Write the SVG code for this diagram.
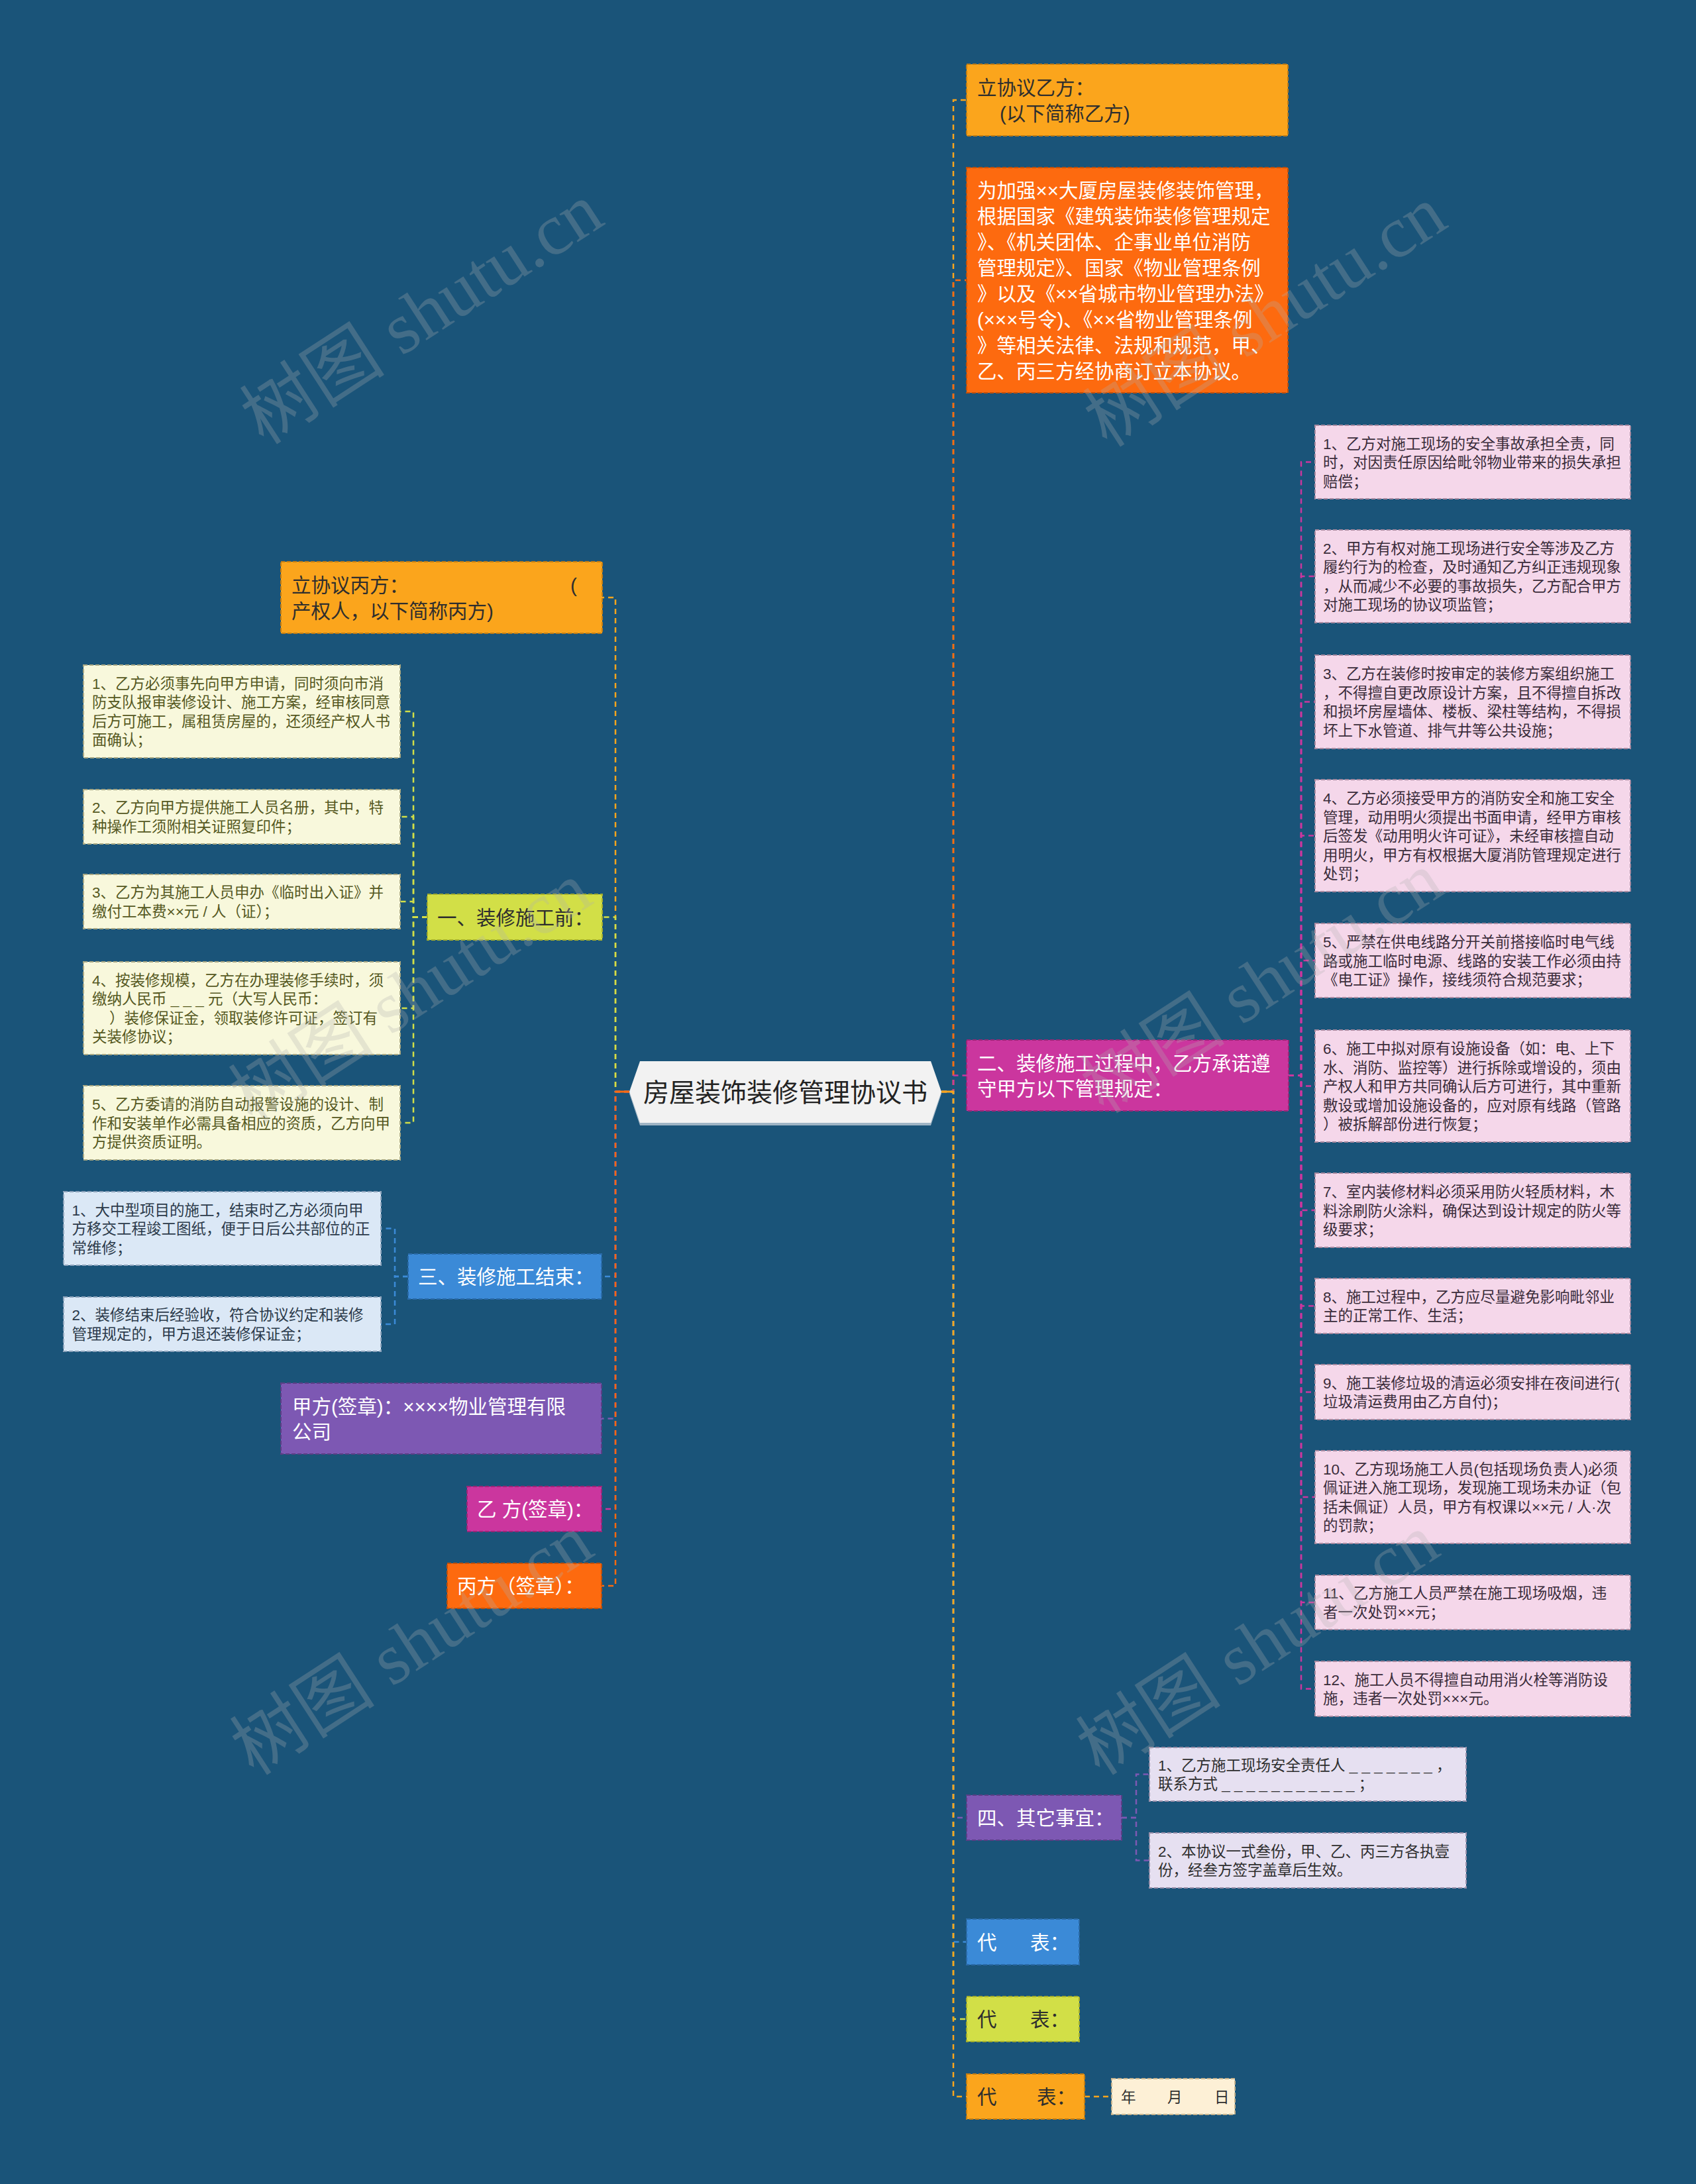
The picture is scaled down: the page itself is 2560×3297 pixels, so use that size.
<svg xmlns="http://www.w3.org/2000/svg" width="2560" height="3297" viewBox="0 0 2560 3297">
<style>
text{font-family:"Liberation Sans","Noto Sans CJK SC",sans-serif;}
.big{font-size:29.5px;}
.sm{font-size:22.5px;}
.nb{stroke-width:2;stroke-dasharray:6 3;}
.c{fill:none;stroke-width:2.5;stroke-dasharray:8 6;}
.s{fill:none;stroke-width:3;}
.wt{fill:#ffffff;}
.dk{fill:#2e2e2e;}
.ol{fill:#55581f;}
.pk{fill:#3a2c3a;}
.bl{fill:#2b3a4a;}
.wm{font-family:"Liberation Serif","Noto Sans CJK SC",serif;font-size:110px;fill:#b0b0b0;opacity:0.27;}
</style>
<rect x="0" y="0" width="2560" height="3297" fill="#1a5479"/>

<g id="connectors">
  <path class="c" stroke="#fba51c" d="M950 1648 H929 V902 H909"/>
  <path class="c" stroke="#d2df47" d="M950 1648 H929 V1384.5 H909"/>
  <path class="c" stroke="#3b8ad7" d="M950 1648 H929 V1927 H908"/>
  <path class="c" stroke="#7d58b3" d="M950 1648 H929 V2141.5 H908"/>
  <path class="c" stroke="#cb369e" d="M950 1648 H929 V2278 H908"/>
  <path class="c" stroke="#fd6a0f" d="M950 1648 H929 V2394 H908"/>
  <path class="s" stroke="#fd6a0f" d="M929 1648 H950"/>

  <path class="c" stroke="#fba51c" d="M1421 1648 H1439 V151 H1459"/>
  <path class="c" stroke="#fd6a0f" d="M1421 1648 H1439 V423 H1459"/>
  <path class="c" stroke="#cb369e" d="M1421 1648 H1439 V1623.5 H1459"/>
  <path class="c" stroke="#7d58b3" d="M1421 1648 H1439 V2744 H1459"/>
  <path class="c" stroke="#3b8ad7" d="M1421 1648 H1439 V2931.5 H1459"/>
  <path class="c" stroke="#d2df47" d="M1421 1648 H1439 V3048 H1459"/>
  <path class="c" stroke="#fba51c" d="M1421 1648 H1439 V3165 H1459"/>
  <path class="s" stroke="#fba51c" d="M1421 1648 H1439"/>

  <g stroke="#d2df47">
    <path class="c" d="M645 1384.5 H624 V1074 H604"/>
    <path class="c" d="M645 1384.5 H624 V1233 H604"/>
    <path class="c" d="M645 1384.5 H624 V1361 H604"/>
    <path class="c" d="M645 1384.5 H624 V1522 H604"/>
    <path class="c" d="M645 1384.5 H624 V1695 H604"/>
  </g>
  <g stroke="#3b8ad7">
    <path class="c" d="M616 1927 H596 V1854.5 H575"/>
    <path class="c" d="M616 1927 H596 V1999 H575"/>
  </g>
  <g stroke="#cb369e">
    <path class="c" d="M1945 1623.5 H1964 V697.5 H1985"/>
    <path class="c" d="M1945 1623.5 H1964 V870 H1985"/>
    <path class="c" d="M1945 1623.5 H1964 V1059.5 H1985"/>
    <path class="c" d="M1945 1623.5 H1964 V1261.5 H1985"/>
    <path class="c" d="M1945 1623.5 H1964 V1450 H1985"/>
    <path class="c" d="M1945 1623.5 H1964 V1639.5 H1985"/>
    <path class="c" d="M1945 1623.5 H1964 V1827 H1985"/>
    <path class="c" d="M1945 1623.5 H1964 V1971.5 H1985"/>
    <path class="c" d="M1945 1623.5 H1964 V2101.5 H1985"/>
    <path class="c" d="M1945 1623.5 H1964 V2260 H1985"/>
    <path class="c" d="M1945 1623.5 H1964 V2419 H1985"/>
    <path class="c" d="M1945 1623.5 H1964 V2549.5 H1985"/>
  </g>
  <g stroke="#7d58b3">
    <path class="c" d="M1693 2744 H1715 V2678.5 H1735"/>
    <path class="c" d="M1693 2744 H1715 V2808.5 H1735"/>
  </g>
  <path class="c" stroke="#fba51c" d="M1637 3165 H1678"/>
</g>

<g id="root">
  <polygon points="950,1651 966,1605 1405,1605 1421,1651 1405,1699 966,1699" fill="#9fb4c4"/>
  <polygon points="950,1648 966,1602 1405,1602 1421,1648 1405,1695 966,1695" fill="#f2f2f2"/>
  <text x="1185.5" y="1663" font-size="39" text-anchor="middle" fill="#222">房屋装饰装修管理协议书</text>
</g>

<!-- right side -->
<g id="n-yifang">
  <rect class="nb" x="1459" y="97" width="485" height="108" fill="#fba51c" stroke="#c27d14"/>
  <text class="big dk"><tspan x="1475" y="143">立协议乙方：</tspan><tspan x="1509" y="181.5">(以下简称乙方)</tspan></text>
</g>
<g id="n-preamble">
  <rect class="nb" x="1459" y="253" width="485" height="340" fill="#fd6a0f" stroke="#c2500a"/>
  <text class="big wt">
    <tspan x="1475" y="297.7">为加强××大厦房屋装修装饰管理，</tspan>
    <tspan x="1475" y="336.7">根据国家《建筑装饰装修管理规定</tspan>
    <tspan x="1475" y="375.7">》、《机关团体、企事业单位消防</tspan>
    <tspan x="1475" y="414.7">管理规定》、国家《物业管理条例</tspan>
    <tspan x="1475" y="453.7">》以及《××省城市物业管理办法》</tspan>
    <tspan x="1475" y="492.7">(×××号令)、《××省物业管理条例</tspan>
    <tspan x="1475" y="531.7">》等相关法律、法规和规范，甲、</tspan>
    <tspan x="1475" y="570.7">乙、丙三方经协商订立本协议。</tspan>
  </text>
</g>
<g id="n-two">
  <rect class="nb" x="1459" y="1570" width="486" height="107" fill="#cb369e" stroke="#9a2677"/>
  <text class="big wt"><tspan x="1475" y="1615.5">二、装修施工过程中，乙方承诺遵</tspan><tspan x="1475" y="1654">守甲方以下管理规定：</tspan></text>
</g>
<g id="p1">
  <rect class="nb" x="1985" y="642" width="476" height="111" fill="#f5d7ea" stroke="#a88aa0"/>
  <text class="sm pk"><tspan x="1997" y="677.6">1、乙方对施工现场的安全事故承担全责，同</tspan><tspan x="1997" y="706.1">时，对因责任原因给毗邻物业带来的损失承担</tspan><tspan x="1997" y="734.6">赔偿；</tspan></text>
</g>
<g id="p2">
  <rect class="nb" x="1985" y="800" width="476" height="140" fill="#f5d7ea" stroke="#a88aa0"/>
  <text class="sm pk"><tspan x="1997" y="835.9">2、甲方有权对施工现场进行安全等涉及乙方</tspan><tspan x="1997" y="864.4">履约行为的检查，及时通知乙方纠正违规现象</tspan><tspan x="1997" y="892.9">，从而减少不必要的事故损失，乙方配合甲方</tspan><tspan x="1997" y="921.4">对施工现场的协议项监管；</tspan></text>
</g>
<g id="p3">
  <rect class="nb" x="1985" y="989" width="476" height="141" fill="#f5d7ea" stroke="#a88aa0"/>
  <text class="sm pk"><tspan x="1997" y="1025.4">3、乙方在装修时按审定的装修方案组织施工</tspan><tspan x="1997" y="1053.9">，不得擅自更改原设计方案，且不得擅自拆改</tspan><tspan x="1997" y="1082.4">和损坏房屋墙体、楼板、梁柱等结构，不得损</tspan><tspan x="1997" y="1110.9">坏上下水管道、排气井等公共设施；</tspan></text>
</g>
<g id="p4">
  <rect class="nb" x="1985" y="1177" width="476" height="169" fill="#f5d7ea" stroke="#a88aa0"/>
  <text class="sm pk"><tspan x="1997" y="1213.1">4、乙方必须接受甲方的消防安全和施工安全</tspan><tspan x="1997" y="1241.6">管理，动用明火须提出书面申请，经甲方审核</tspan><tspan x="1997" y="1270.1">后签发《动用明火许可证》，未经审核擅自动</tspan><tspan x="1997" y="1298.6">用明火，甲方有权根据大厦消防管理规定进行</tspan><tspan x="1997" y="1327.1">处罚；</tspan></text>
</g>
<g id="p5">
  <rect class="nb" x="1985" y="1394" width="476" height="112" fill="#f5d7ea" stroke="#a88aa0"/>
  <text class="sm pk"><tspan x="1997" y="1430.1">5、严禁在供电线路分开关前搭接临时电气线</tspan><tspan x="1997" y="1458.6">路或施工临时电源、线路的安装工作必须由持</tspan><tspan x="1997" y="1487.1">《电工证》操作，接线须符合规范要求；</tspan></text>
</g>
<g id="p6">
  <rect class="nb" x="1985" y="1555" width="476" height="169" fill="#f5d7ea" stroke="#a88aa0"/>
  <text class="sm pk"><tspan x="1997" y="1591.1">6、施工中拟对原有设施设备（如：电、上下</tspan><tspan x="1997" y="1619.6">水、消防、监控等）进行拆除或增设的，须由</tspan><tspan x="1997" y="1648.1">产权人和甲方共同确认后方可进行，其中重新</tspan><tspan x="1997" y="1676.6">敷设或增加设施设备的，应对原有线路（管路</tspan><tspan x="1997" y="1705.1">）被拆解部份进行恢复；</tspan></text>
</g>
<g id="p7">
  <rect class="nb" x="1985" y="1771" width="476" height="112" fill="#f5d7ea" stroke="#a88aa0"/>
  <text class="sm pk"><tspan x="1997" y="1807.1">7、室内装修材料必须采用防火轻质材料，木</tspan><tspan x="1997" y="1835.6">料涂刷防火涂料，确保达到设计规定的防火等</tspan><tspan x="1997" y="1864.1">级要求；</tspan></text>
</g>
<g id="p8">
  <rect class="nb" x="1985" y="1930" width="476" height="83" fill="#f5d7ea" stroke="#a88aa0"/>
  <text class="sm pk"><tspan x="1997" y="1965.9">8、施工过程中，乙方应尽量避免影响毗邻业</tspan><tspan x="1997" y="1994.4">主的正常工作、生活；</tspan></text>
</g>
<g id="p9">
  <rect class="nb" x="1985" y="2060" width="476" height="83" fill="#f5d7ea" stroke="#a88aa0"/>
  <text class="sm pk"><tspan x="1997" y="2095.9">9、施工装修垃圾的清运必须安排在夜间进行(</tspan><tspan x="1997" y="2124.4">垃圾清运费用由乙方自付)；</tspan></text>
</g>
<g id="p10">
  <rect class="nb" x="1985" y="2190" width="476" height="140" fill="#f5d7ea" stroke="#a88aa0"/>
  <text class="sm pk"><tspan x="1997" y="2225.9">10、乙方现场施工人员(包括现场负责人)必须</tspan><tspan x="1997" y="2254.4">佩证进入施工现场，发现施工现场未办证（包</tspan><tspan x="1997" y="2282.9">括未佩证）人员，甲方有权课以××元 / 人·次</tspan><tspan x="1997" y="2311.4">的罚款；</tspan></text>
</g>
<g id="p11">
  <rect class="nb" x="1985" y="2378" width="476" height="82" fill="#f5d7ea" stroke="#a88aa0"/>
  <text class="sm pk"><tspan x="1997" y="2413.4">11、乙方施工人员严禁在施工现场吸烟，违</tspan><tspan x="1997" y="2441.9">者一次处罚××元；</tspan></text>
</g>
<g id="p12">
  <rect class="nb" x="1985" y="2508" width="476" height="83" fill="#f5d7ea" stroke="#a88aa0"/>
  <text class="sm pk"><tspan x="1997" y="2543.9">12、施工人员不得擅自动用消火栓等消防设</tspan><tspan x="1997" y="2572.4">施，违者一次处罚×××元。</tspan></text>
</g>
<g id="n-four">
  <rect class="nb" x="1459" y="2710" width="234" height="68" fill="#7d58b3" stroke="#5a3e85"/>
  <text class="big wt" x="1475" y="2755.2">四、其它事宜：</text>
</g>
<g id="q1">
  <rect class="nb" x="1735" y="2638" width="478" height="81" fill="#e6e0f1" stroke="#9a90aa"/>
  <text class="sm dk"><tspan x="1748" y="2672.9">1、乙方施工现场安全责任人 _ _ _ _ _ _ _ ，</tspan><tspan x="1748" y="2701.4">联系方式 _ _ _ _ _ _ _ _ _ _ _ ；</tspan></text>
</g>
<g id="q2">
  <rect class="nb" x="1735" y="2767" width="478" height="83" fill="#e6e0f1" stroke="#9a90aa"/>
  <text class="sm dk"><tspan x="1748" y="2802.9">2、本协议一式叁份，甲、乙、丙三方各执壹</tspan><tspan x="1748" y="2831.4">份，经叁方签字盖章后生效。</tspan></text>
</g>
<g id="rep1">
  <rect class="nb" x="1459" y="2897" width="170" height="69" fill="#3b8ad7" stroke="#2a6aa8"/>
  <text class="big wt"><tspan x="1475" y="2942.7">代</tspan><tspan x="1555" y="2942.7">表：</tspan></text>
</g>
<g id="rep2">
  <rect class="nb" x="1459" y="3014" width="170" height="68" fill="#d2df47" stroke="#a3ae2c"/>
  <text class="big dk"><tspan x="1475" y="3059.2">代</tspan><tspan x="1555" y="3059.2">表：</tspan></text>
</g>
<g id="rep3">
  <rect class="nb" x="1459" y="3131" width="178" height="68" fill="#fba51c" stroke="#c27d14"/>
  <text class="big dk"><tspan x="1475" y="3176.2">代</tspan><tspan x="1565" y="3176.2">表：</tspan></text>
</g>
<g id="date">
  <rect class="nb" x="1678" y="3138" width="186" height="54" fill="#fdf0d6" stroke="#c8b48e"/>
  <text class="sm dk"><tspan x="1692" y="3173.6">年</tspan><tspan x="1762" y="3173.6">月</tspan><tspan x="1833" y="3173.6">日</tspan></text>
</g>

<!-- left side -->
<g id="n-bingfang">
  <rect class="nb" x="424" y="848" width="485" height="108" fill="#fba51c" stroke="#c27d14"/>
  <text class="big dk"><tspan x="440" y="894">立协议丙方：</tspan><tspan x="861" y="894">(</tspan><tspan x="440" y="932.5">产权人，以下简称丙方)</tspan></text>
</g>
<g id="n-one">
  <rect class="nb" x="645" y="1350" width="264" height="69" fill="#d2df47" stroke="#a3ae2c"/>
  <text class="big dk" x="660" y="1395.7">一、装修施工前：</text>
</g>
<g id="c1">
  <rect class="nb" x="126" y="1004" width="478" height="140" fill="#f8f8dc" stroke="#a8a884"/>
  <text class="sm ol"><tspan x="139" y="1039.9">1、乙方必须事先向甲方申请，同时须向市消</tspan><tspan x="139" y="1068.4">防支队报审装修设计、施工方案，经审核同意</tspan><tspan x="139" y="1096.9">后方可施工，属租赁房屋的，还须经产权人书</tspan><tspan x="139" y="1125.4">面确认；</tspan></text>
</g>
<g id="c2">
  <rect class="nb" x="126" y="1192" width="478" height="82" fill="#f8f8dc" stroke="#a8a884"/>
  <text class="sm ol"><tspan x="139" y="1227.4">2、乙方向甲方提供施工人员名册，其中，特</tspan><tspan x="139" y="1255.9">种操作工须附相关证照复印件；</tspan></text>
</g>
<g id="c3">
  <rect class="nb" x="126" y="1320" width="478" height="82" fill="#f8f8dc" stroke="#a8a884"/>
  <text class="sm ol"><tspan x="139" y="1355.4">3、乙方为其施工人员申办《临时出入证》并</tspan><tspan x="139" y="1383.9">缴付工本费××元 / 人（证）；</tspan></text>
</g>
<g id="c4">
  <rect class="nb" x="126" y="1452" width="478" height="140" fill="#f8f8dc" stroke="#a8a884"/>
  <text class="sm ol"><tspan x="139" y="1487.9">4、按装修规模，乙方在办理装修手续时，须</tspan><tspan x="139" y="1516.4">缴纳人民币 _ _ _ 元（大写人民币：</tspan><tspan x="165" y="1544.9">）装修保证金，领取装修许可证，签订有</tspan><tspan x="139" y="1573.4">关装修协议；</tspan></text>
</g>
<g id="c5">
  <rect class="nb" x="126" y="1639" width="478" height="112" fill="#f8f8dc" stroke="#a8a884"/>
  <text class="sm ol"><tspan x="139" y="1675.1">5、乙方委请的消防自动报警设施的设计、制</tspan><tspan x="139" y="1703.6">作和安装单作必需具备相应的资质，乙方向甲</tspan><tspan x="139" y="1732.1">方提供资质证明。</tspan></text>
</g>
<g id="n-three">
  <rect class="nb" x="616" y="1893" width="292" height="68" fill="#3b8ad7" stroke="#2a6aa8"/>
  <text class="big wt" x="631" y="1938.2">三、装修施工结束：</text>
</g>
<g id="b1">
  <rect class="nb" x="96" y="1799" width="479" height="111" fill="#dbe8f6" stroke="#8ea4bc"/>
  <text class="sm bl"><tspan x="108.5" y="1834.6">1、大中型项目的施工，结束时乙方必须向甲</tspan><tspan x="108.5" y="1863.1">方移交工程竣工图纸，便于日后公共部位的正</tspan><tspan x="108.5" y="1891.6">常维修；</tspan></text>
</g>
<g id="b2">
  <rect class="nb" x="96" y="1958" width="479" height="82" fill="#dbe8f6" stroke="#8ea4bc"/>
  <text class="sm bl"><tspan x="108.5" y="1993.4">2、装修结束后经验收，符合协议约定和装修</tspan><tspan x="108.5" y="2021.9">管理规定的，甲方退还装修保证金；</tspan></text>
</g>
<g id="n-jiasign">
  <rect class="nb" x="424" y="2088" width="484" height="107" fill="#7d58b3" stroke="#5a3e85"/>
  <text class="big wt"><tspan x="441" y="2133.5">甲方(签章)：××××物业管理有限</tspan><tspan x="441" y="2172">公司</tspan></text>
</g>
<g id="n-yisign">
  <rect class="nb" x="705" y="2244" width="203" height="68" fill="#cb369e" stroke="#9a2677"/>
  <text class="big wt" x="720" y="2289.2">乙 方(签章)：</text>
</g>
<g id="n-bingsign">
  <rect class="nb" x="675" y="2360" width="233" height="68" fill="#fd6a0f" stroke="#c2500a"/>
  <text class="big wt" x="690" y="2405.2">丙方（签章）：</text>
</g>

<g id="watermarks">
  <text class="wm" text-anchor="middle" transform="translate(657,505) rotate(-33)">树图 shutu.cn</text>
  <text class="wm" text-anchor="middle" transform="translate(1930,509) rotate(-33)">树图 shutu.cn</text>
  <text class="wm" text-anchor="middle" transform="translate(640,1530) rotate(-33)">树图 shutu.cn</text>
  <text class="wm" text-anchor="middle" transform="translate(1925,1515) rotate(-33)">树图 shutu.cn</text>
  <text class="wm" text-anchor="middle" transform="translate(642,2514) rotate(-33)">树图 shutu.cn</text>
  <text class="wm" text-anchor="middle" transform="translate(1919,2514) rotate(-33)">树图 shutu.cn</text>
</g>
</svg>
